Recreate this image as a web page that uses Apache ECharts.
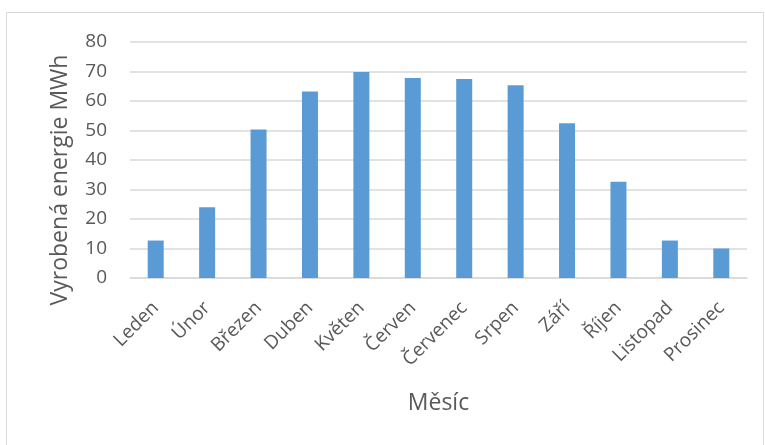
<!DOCTYPE html>
<html>
<head>
<meta charset="utf-8">
<script src="https://cdn.jsdelivr.net/npm/echarts@6/dist/echarts.min.js"></script>
<style>
  html, body { margin: 0; padding: 0; background: #fff; }
  #chart { width: 765px; height: 445px; }
</style>
</head>
<body>
<div id="chart"></div>
<script>
// Monthly energy production
const months = ['Leden', 'Únor', 'Březen', 'Duben', 'Květen', 'Červen', 'Červenec', 'Srpen', 'Září', 'Říjen', 'Listopad', 'Prosinec'];
const energy = [12.7, 24.0, 50.3, 63.2, 69.8, 67.8, 67.5, 65.3, 52.5, 32.6, 12.7, 10.0];
const yTicks = { min: 0, max: 80, step: 10 };
const yTitle = 'Vyrobená energie MWh';
const xTitle = 'Měsíc';

const FONT = '"Open Sans", "Noto Sans", sans-serif';
const TEXT = '#595959';
const GRID = '#d9d9d9';

const chart = echarts.init(document.getElementById('chart'));
chart.setOption({
  animation: false,
  backgroundColor: '#fff',
  textStyle: { fontFamily: FONT },
  graphic: [
    {
      type: 'rect',
      shape: { x: 6.5, y: 12.5, width: 757, height: 440 },
      style: { fill: 'none', stroke: GRID, lineWidth: 1 },
      silent: true
    },
    {
      type: 'text',
      x: 60, y: 180,
      rotation: Math.PI / 2,
      style: {
        text: yTitle, fill: TEXT, font: '23px ' + FONT,
        align: 'center', verticalAlign: 'middle'
      },
      silent: true
    }
  ],
  grid: { left: 130, right: 18, top: 42, bottom: 167 },
  xAxis: {
    type: 'category',
    data: months,
    name: xTitle,
    nameLocation: 'middle',
    nameGap: 114,
    nameTextStyle: { color: TEXT, fontSize: 23, fontFamily: FONT },
    axisLine: { lineStyle: { color: GRID, width: 1.5 } },
    axisTick: { show: false },
    axisLabel: { rotate: 45, color: TEXT, fontSize: 19, margin: 27, interval: 0 }
  },
  yAxis: {
    type: 'value',
    min: yTicks.min,
    max: yTicks.max,
    interval: yTicks.step,
    axisLine: { show: false },
    axisTick: { show: false },
    axisLabel: { color: TEXT, fontSize: 19, margin: 23 },
    splitLine: { lineStyle: { color: GRID, width: 1.5 } }
  },
  series: [{
    type: 'bar',
    data: energy,
    barWidth: 16,
    itemStyle: { color: '#5B9BD5' }
  }]
});
</script>
</body>
</html>
